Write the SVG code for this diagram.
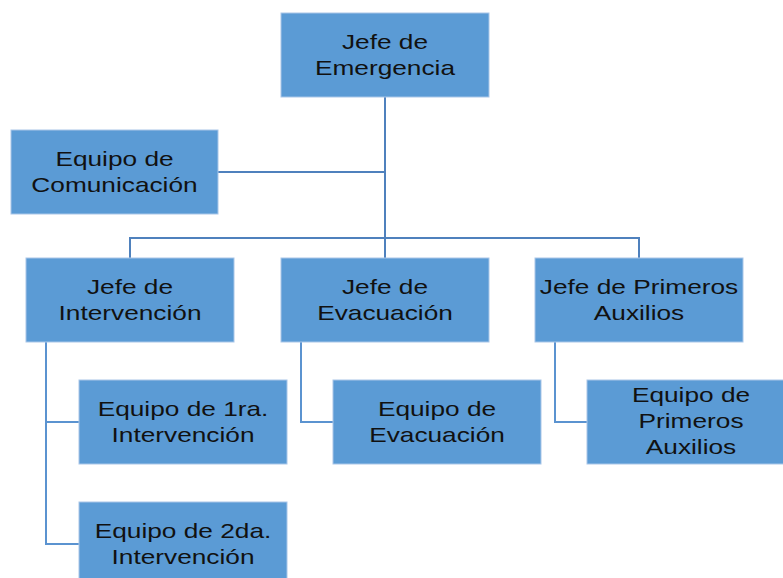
<svg xmlns="http://www.w3.org/2000/svg" width="783" height="578" viewBox="0 0 783 578">
<style>
.box{fill:#5b9bd5;stroke:#a9c6e8;stroke-width:1}
.t{font-family:"Liberation Sans",Arial,sans-serif;font-size:21px;fill:#111;text-anchor:middle}
.main{fill:none;stroke:#4f81bd;stroke-width:2}
.sub{fill:none;stroke:#5b93d0;stroke-width:2}
</style>
<rect width="783" height="578" fill="#fff"/>
<g id="connectors">
<path class="main" d="M385 97V258" stroke-width="2.5"/>
<path class="main" d="M218 172H385"/>
<path class="main" d="M130 258V238H639V258"/>
<path class="sub" d="M46 342V544H79M46 422H79"/>
<path class="sub" d="M301 342V422H333"/>
<path class="sub" d="M555 342V422H587"/>
</g>
<g id="jefe-emergencia">
<rect class="box" x="281" y="13" width="208" height="84"/>
<text class="t" transform="translate(385 0) scale(1.25 1)"><tspan x="0" y="49">Jefe de</tspan><tspan x="0" y="75">Emergencia</tspan></text>
</g>
<g id="equipo-comunicacion">
<rect class="box" x="11" y="130" width="207" height="84"/>
<text class="t" transform="translate(114.5 0) scale(1.25 1)"><tspan x="0" y="166">Equipo de</tspan><tspan x="0" y="192">Comunicación</tspan></text>
</g>
<g id="jefe-intervencion">
<rect class="box" x="26" y="258" width="208" height="84"/>
<text class="t" transform="translate(130 0) scale(1.25 1)"><tspan x="0" y="294">Jefe de</tspan><tspan x="0" y="320">Intervención</tspan></text>
</g>
<g id="jefe-evacuacion">
<rect class="box" x="281" y="258" width="208" height="84"/>
<text class="t" transform="translate(385 0) scale(1.25 1)"><tspan x="0" y="294">Jefe de</tspan><tspan x="0" y="320">Evacuación</tspan></text>
</g>
<g id="jefe-primeros-auxilios">
<rect class="box" x="535" y="258" width="208" height="84"/>
<text class="t" transform="translate(639 0) scale(1.25 1)"><tspan x="0" y="294">Jefe de Primeros</tspan><tspan x="0" y="320">Auxilios</tspan></text>
</g>
<g id="equipo-1ra">
<rect class="box" x="79" y="380" width="208" height="84"/>
<text class="t" transform="translate(183 0) scale(1.25 1)"><tspan x="0" y="416">Equipo de 1ra.</tspan><tspan x="0" y="442">Intervención</tspan></text>
</g>
<g id="equipo-2da">
<rect class="box" x="79" y="502" width="208" height="84"/>
<text class="t" transform="translate(183 0) scale(1.25 1)"><tspan x="0" y="538">Equipo de 2da.</tspan><tspan x="0" y="564">Intervención</tspan></text>
</g>
<g id="equipo-evacuacion">
<rect class="box" x="333" y="380" width="208" height="84"/>
<text class="t" transform="translate(437 0) scale(1.25 1)"><tspan x="0" y="416">Equipo de</tspan><tspan x="0" y="442">Evacuación</tspan></text>
</g>
<g id="equipo-primeros-auxilios">
<rect class="box" x="587" y="380" width="208" height="84"/>
<text class="t" transform="translate(691 0) scale(1.25 1)"><tspan x="0" y="402">Equipo de</tspan><tspan x="0" y="428">Primeros</tspan><tspan x="0" y="454">Auxilios</tspan></text>
</g>
</svg>
